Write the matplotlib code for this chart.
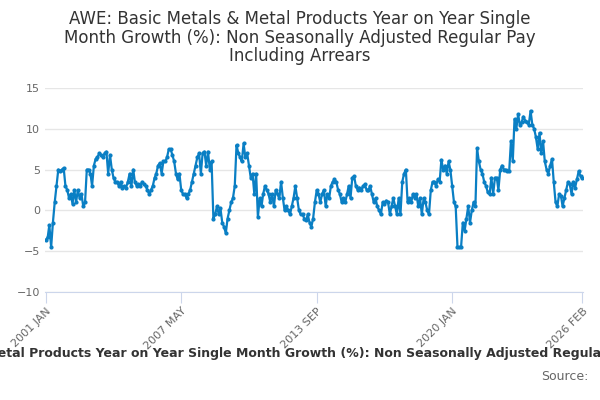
import numpy as np
import pandas as pd
import matplotlib
matplotlib.use('Agg')
import matplotlib.pyplot as plt

TITLE = ('AWE: Basic Metals & Metal Products Year on Year Single\n'
         'Month Growth (%): Non Seasonally Adjusted Regular Pay\n'
         'Including Arrears')
LEGEND = 'AWE: Basic Metals & Metal Products Year on Year Single Month Growth (%): Non Seasonally Adjusted Regular Pay Including Arrears'

values = [
    -3.6, -3.3, -1.8, -4.5, -1.5, 1.0, 3.0, 5.0, 4.8, 5.0, 5.2, 3.0,   # 2001
    2.5, 1.5, 2.0, 0.8, 2.5, 1.0, 2.5, 1.5, 2.0, 0.5, 1.0, 5.0,        # 2002
    5.0, 4.5, 3.0, 5.5, 6.3, 6.5, 7.0, 6.8, 6.5, 7.0, 7.2, 4.5,        # 2003
    6.8, 5.0, 4.0, 3.5, 3.5, 3.0, 3.5, 2.8, 3.0, 2.8, 3.5, 4.5,        # 2004
    3.0, 5.0, 3.5, 3.0, 3.2, 3.0, 3.5, 3.2, 3.0, 2.5, 2.0, 2.5,        # 2005
    3.0, 4.0, 4.5, 5.5, 5.8, 4.5, 6.0, 6.0, 6.5, 7.5, 7.5, 6.8,        # 2006
    6.0, 4.5, 3.8, 4.5, 2.5, 2.0, 2.0, 1.5, 2.0, 2.5, 3.5, 4.5,        # 2007
    5.5, 6.5, 7.0, 4.5, 7.0, 7.2, 5.5, 7.2, 5.0, 6.0, -1.0, -0.5,      # 2008
    0.5, -0.5, 0.3, -1.5, -2.0, -2.8, -1.0, 0.0, 1.0, 1.5, 3.0, 8.0,   # 2009
    7.0, 6.5, 6.0, 8.2, 6.5, 7.0, 5.5, 4.0, 4.5, 2.0, 4.5, -0.8,       # 2010
    1.5, 0.5, 2.0, 3.0, 2.5, 2.0, 1.0, 2.0, 0.5, 2.5, 2.0, 1.5,        # 2011
    3.5, 1.5, 0.0, 0.5, 0.0, -0.5, 0.5, 1.5, 3.0, 1.5, 0.0, -0.5,      # 2012
    -0.5, -1.0, -1.2, -0.5, -1.5, -2.0, -1.0, 1.0, 2.5, 2.0, 1.0, 2.0, # 2013
    2.5, 0.5, 2.0, 1.5, 3.0, 3.5, 3.8, 3.5, 2.5, 2.0, 1.0, 1.5,        # 2014
    1.0, 2.0, 3.0, 1.5, 4.0, 4.2, 3.0, 2.5, 2.8, 2.5, 3.0, 3.2,        # 2015
    2.5, 2.5, 3.0, 2.0, 1.0, 1.5, 0.5, 0.0, -0.5, 1.0, 0.8, 1.2,       # 2016
    1.0, -0.5, 0.5, 1.5, 0.5, -0.5, 1.5, -0.5, 3.5, 4.5, 5.0, 1.0,     # 2017
    1.5, 1.0, 2.0, 1.5, 2.0, 0.5, 1.5, -0.5, 1.5, 1.0, 0.0, -0.5,      # 2018
    2.5, 3.5, 3.5, 3.0, 3.8, 3.5, 6.2, 5.0, 5.5, 4.5, 6.0, 5.0,        # 2019
    3.0, 1.0, 0.5, -4.5, -4.5, -4.5, -1.5, -2.5, -1.0, 0.5, -1.5, 0.0, # 2020
    1.0, 0.5, 7.6, 6.0, 5.0, 4.5, 3.5, 3.0, 2.2, 2.0, 4.0, 2.0,        # 2021
    4.0, 4.0, 2.5, 5.0, 5.5, 5.0, 5.0, 4.8, 4.8, 8.5, 6.0, 11.2,       # 2022
    10.0, 11.8, 10.5, 10.8, 11.5, 11.0, 10.8, 10.5, 12.2, 10.5, 10.0, 9.0,  # 2023
    7.5, 9.5, 7.0, 8.5, 6.0, 5.0, 4.5, 5.5, 6.3, 3.5, 1.0, 0.5,        # 2024
    2.0, 1.8, 0.5, 1.5, 2.5, 3.5, 3.2, 2.0, 3.5, 2.8, 3.8, 4.8,        # 2025
    4.2, 4.0,                                                          # 2026
]
dates = pd.date_range('2001-01-01', periods=len(values), freq='MS')
tick_dates = pd.to_datetime(['2001-01-01', '2007-05-01', '2013-09-01', '2020-01-01', '2026-02-01'])
tick_labels = ['2001 JAN', '2007 MAY', '2013 SEP', '2020 JAN', '2026 FEB']

fig = plt.figure(figsize=(6, 4), dpi=100)
ax = fig.add_axes([0.075, 0.27, 0.897, 0.51])
ax.plot(dates, values, color='#0a7fc4', lw=1.6, marker='o', ms=2)
ax.set_ylim(-10, 15)
ax.set_yticks([-10, -5, 0, 5, 10, 15])
ax.set_xlim(dates[0] - pd.Timedelta(days=15), dates[-1] + pd.Timedelta(days=15))
ax.set_xticks(tick_dates)
ax.set_xticklabels(tick_labels, rotation=45, ha='right', rotation_mode='anchor')
ax.tick_params(axis='both', labelsize=8, colors='#666666', length=0)
ax.tick_params(axis='x', length=8, color='#ccd6eb', pad=2)
ax.grid(axis='y', color='#e6e6e6', lw=1)
for s in ['top', 'right', 'left']:
    ax.spines[s].set_visible(False)
ax.spines['bottom'].set_color('#ccd6eb')

fig.text(0.5, 0.975, TITLE, ha='center', va='top', fontsize=12, color='#333333',
         linespacing=1.05)
fig.text(0.5, 0.115, LEGEND, ha='center', va='center', fontsize=9, color='#333333',
         fontweight='bold')
fig.text(0.98, 0.06, 'Source:', ha='right', va='center', fontsize=9, color='#666666')
fig.savefig('out.png', dpi=100, facecolor='white')
